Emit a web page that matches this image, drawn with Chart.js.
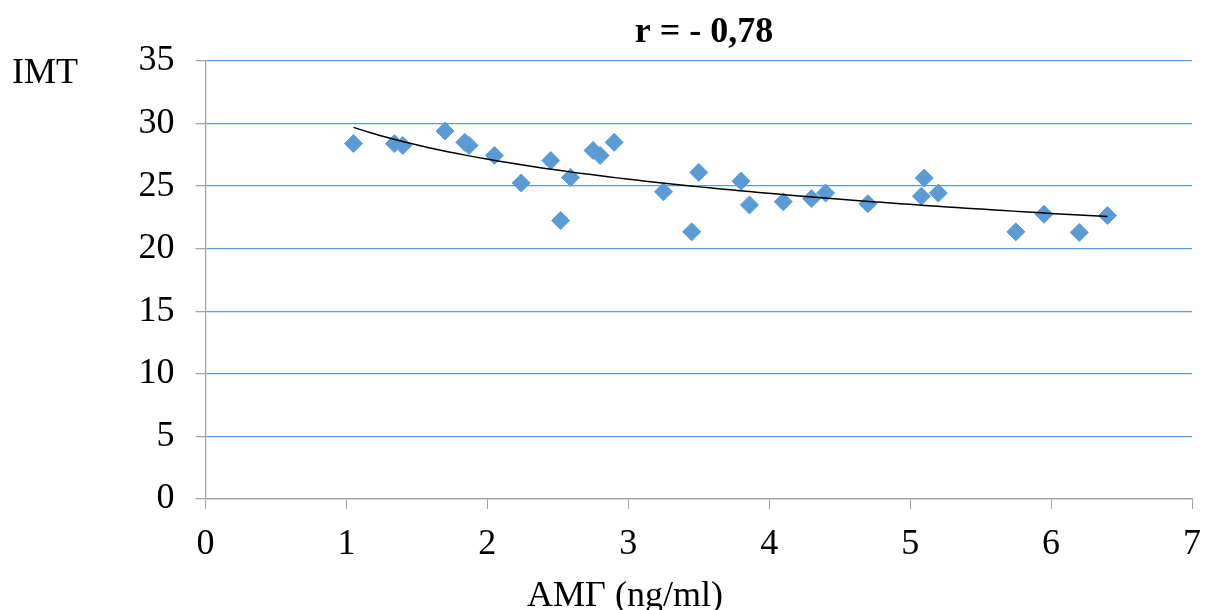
<!DOCTYPE html>
<html>
<head>
<meta charset="utf-8">
<title>ІМТ / АМГ</title>
<script src="https://cdn.jsdelivr.net/npm/chart.js@4/dist/chart.umd.min.js"></script>
<style>
  html, body { margin: 0; padding: 0; background: #ffffff; }
  #wrap { width: 1206px; height: 610px; }
</style>
</head>
<body>
<div id="wrap"><canvas id="chart" width="1206" height="610"></canvas></div>
<script>
// AMH level (ng/ml) for each patient
const amh = [
  1.05, 1.34, 1.40, 1.70, 1.84, 1.87, 2.05, 2.24, 2.45, 2.52,
  2.59, 2.75, 2.80, 2.90, 3.25, 3.45, 3.50, 3.80, 3.86, 4.10,
  4.30, 4.40, 4.70, 5.08, 5.10, 5.20, 5.75, 5.95, 6.20, 6.40
];
// body mass index of the same patients
const bmi = [
  28.4, 28.4, 28.25, 29.4, 28.5, 28.25, 27.45, 25.25, 27.05, 22.25,
  25.7, 27.85, 27.45, 28.5, 24.55, 21.35, 26.1, 25.4, 23.5, 23.75,
  24.0, 24.45, 23.6, 24.2, 25.65, 24.45, 21.35, 22.75, 21.3, 22.65
];
const xTicks = [0, 1, 2, 3, 4, 5, 6, 7];
const yTicks = [0, 5, 10, 15, 20, 25, 30, 35];
const titleText = 'r = - 0,78';
const yTitleText = 'ІМТ';
const xTitleText = 'АМГ (ng/ml)';

const points = amh.map((x, i) => ({ x: x, y: bmi[i] }));

// logarithmic least-squares trend: y = a + b * ln(x)
function logFit(xs, ys) {
  const n = xs.length;
  let sl = 0, sy = 0, sll = 0, sly = 0;
  for (let i = 0; i < n; i++) {
    const l = Math.log(xs[i]);
    sl += l; sy += ys[i]; sll += l * l; sly += l * ys[i];
  }
  const b = (n * sly - sl * sy) / (n * sll - sl * sl);
  const a = (sy - b * sl) / n;
  return { a, b };
}
const fit = logFit(amh, bmi);
const xMin = Math.min(...amh), xMax = Math.max(...amh);
const trend = [];
const steps = 80;
for (let k = 0; k <= steps; k++) {
  const x = xMin + (xMax - xMin) * k / steps;
  trend.push({ x: x, y: fit.a + fit.b * Math.log(x) });
}

const FONT = "'Liberation Serif', 'Times New Roman', serif";
const BLUE = '#5B9BD5';
const AXIS = '#a6a6a6';

const textPlugin = {
  id: 'textLabels',
  afterDraw(chart) {
    const ctx = chart.ctx;
    ctx.save();
    ctx.fillStyle = '#000000';
    ctx.textBaseline = 'alphabetic';
    ctx.font = 'bold 36px ' + FONT;
    ctx.textAlign = 'center';
    ctx.fillText(titleText, 704, 42);
    ctx.font = '36px ' + FONT;
    ctx.textAlign = 'left';
    ctx.fillText(yTitleText, 12, 83);
    ctx.textAlign = 'center';
    ctx.fillText(xTitleText, 625, 606);
    ctx.restore();
  }
};

new Chart(document.getElementById('chart'), {
  type: 'scatter',
  data: {
    datasets: [
      {
        type: 'line',
        data: trend,
        borderColor: '#000000',
        borderWidth: 1.5,
        pointRadius: 0,
        fill: false,
        tension: 0,
        order: 0
      },
      {
        data: points,
        pointStyle: 'rectRot',
        pointRadius: 9,
        pointBackgroundColor: BLUE,
        pointBorderColor: BLUE,
        pointBorderWidth: 1,
        order: 1
      }
    ]
  },
  options: {
    responsive: false,
    animation: false,
    devicePixelRatio: 1,
    layout: { padding: { left: 0, right: 14, top: 61, bottom: 0 } },
    plugins: {
      legend: { display: false },
      title: { display: false },
      tooltip: { enabled: false }
    },
    scales: {
      x: {
        type: 'linear',
        min: 0,
        max: 7,
        afterBuildTicks(scale) { scale.ticks = xTicks.map(v => ({ value: v })); },
        afterFit(scale) {
          scale.height = 111;
          scale.paddingLeft = 0;
          scale.paddingRight = 0;
        },
        grid: {
          drawOnChartArea: false,
          drawTicks: true,
          tickLength: 10,
          tickColor: AXIS,
          tickWidth: 1
        },
        border: { display: true, color: AXIS, width: 1.3 },
        ticks: {
          color: '#000000',
          font: { family: FONT, size: 36 },
          padding: 14,
          maxRotation: 0,
          callback: v => String(v)
        }
      },
      y: {
        type: 'linear',
        min: 0,
        max: 35,
        afterBuildTicks(scale) { scale.ticks = yTicks.map(v => ({ value: v })); },
        afterFit(scale) {
          scale.width = 205.5;
          scale.paddingTop = 0;
          scale.paddingBottom = 0;
        },
        grid: {
          drawOnChartArea: true,
          color: BLUE,
          lineWidth: 1.3,
          drawTicks: true,
          tickLength: 10,
          tickColor: AXIS,
          tickWidth: 1.3
        },
        border: { display: true, color: AXIS, width: 1.3 },
        ticks: {
          color: '#000000',
          font: { family: FONT, size: 36 },
          padding: 21,
          callback: v => String(v)
        }
      }
    }
  },
  plugins: [textPlugin]
});
</script>
</body>
</html>
